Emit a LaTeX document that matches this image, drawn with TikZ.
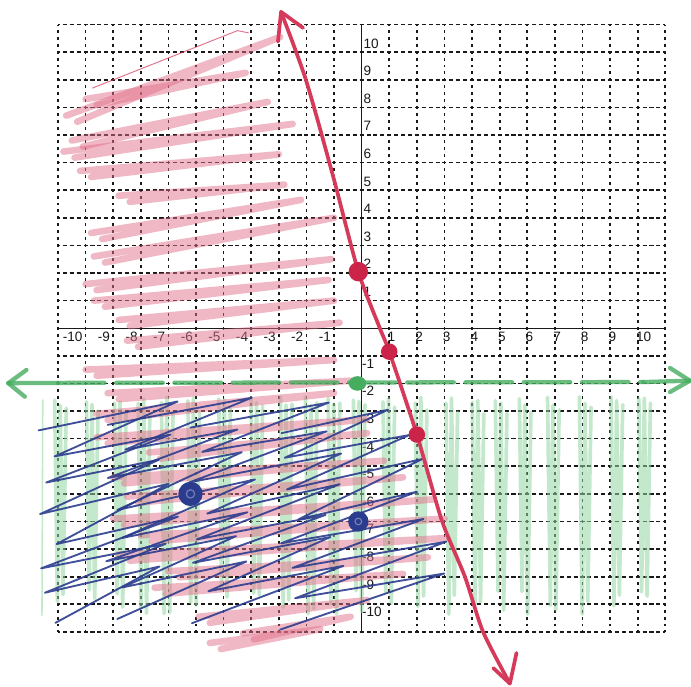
\documentclass[tikz,border=0pt]{standalone}
\usepackage{fontspec}
\setmainfont{Liberation Sans}
\usetikzlibrary{shapes.geometric}
\definecolor{redline}{HTML}{D63A5A}
\definecolor{reddot}{HTML}{CC2348}
\definecolor{redcrayon}{HTML}{E2708A}
\definecolor{bluepen}{HTML}{2B3C8E}
\definecolor{greenpen}{HTML}{45AD5E}
\definecolor{greencrayon}{HTML}{92D6A2}
\begin{document}
\begin{tikzpicture}[x=0.5cm,y=0.5cm,
  gridh/.style={line width=0.85pt, black!90, dash pattern=on 2.1pt off 1.4565pt, dash phase=1.05pt},
  gridv/.style={line width=0.85pt, black!90, dash pattern=on 1.5pt off 2.0565pt, dash phase=0.75pt},
  axisline/.style={line width=0.7pt, black!90},
  ticklab/.style={font=\fontsize{7}{7}\selectfont, inner sep=0pt, text=black!90},
  greenshade/.style={draw=greencrayon, line width=1.9pt, opacity=0.55, line cap=round, line join=round},
  redshade/.style={draw=redcrayon, line width=3.4pt, opacity=0.5, line cap=round, line join=round},
  bluescribble/.style={draw=bluepen, line width=0.95pt, opacity=0.9, line cap=round, line join=round},
  redcurve/.style={draw=redline, line width=1.9pt, line cap=round, line join=round},
  greencurve/.style={draw=greenpen, line width=2.2pt, opacity=0.8, line cap=round, line join=round},
  dotred/.style={circle, fill=reddot, inner sep=0pt, minimum size=#1},
  dotblue/.style={circle, fill=bluepen, inner sep=0pt, minimum size=#1},
  dotgreen/.style={ellipse, fill=greenpen, inner sep=0pt, minimum width=9pt, minimum height=7.5pt}
]
\useasboundingbox (-13.10,-12.96) rectangle (11.93,11.89);
\fill[white] (-13.10,-12.96) rectangle (11.93,11.89);

% grid
\foreach \i in {-11,...,-1}{
  \draw[gridv] (\i,-11) -- (\i,11);
  \draw[gridh] (-11,\i) -- (11,\i);
}
\foreach \i in {1,...,11}{
  \draw[gridv] (\i,-11) -- (\i,11);
  \draw[gridh] (-11,\i) -- (11,\i);
}
\draw[axisline] (-11,0) -- (11,0);
\draw[axisline] (0,-11) -- (0,11);

% tick labels
\foreach \i [count=\c] in {-10,...,-1}{
  \node[ticklab, anchor=base east] (xn\c) at ({\i-0.1},-0.49) {\i};
  \node[ticklab, anchor=base west] (yn\c) at (0.0,{\i-0.45}) {\i};
}
\foreach \i in {1,...,10}{
  \node[ticklab, anchor=base west] (xp\i) at ({\i-0.07},-0.49) {\i};
  \node[ticklab, anchor=base west] (yp\i) at (0.06,{\i+0.15}) {\i};
}

% green shading (below y=-2): bands of vertical crayon strokes
\draw[greenshade, line width=0.8pt] (-11.55,-2.6) -- (-11.58,-10.4);
\foreach \k in {0,...,21}{
  \pgfmathsetmacro\cc{-10.9+\k+0.18*sin(\k*57)}
  \draw[greenshade] ({\cc-0.22},{-2.6-0.12*sin(\k*33)}) -- ({\cc-0.12},{-9.9+0.45*sin(\k*71)})
     -- ({\cc-0.02},{-2.65-0.15*cos(\k*41)}) -- ({\cc+0.08},{-10.0+0.35*cos(\k*53)})
     -- ({\cc+0.2},{-2.9-0.2*sin(\k*29)});
}

% red crayon shading
\foreach \xa/\ya/\xb/\yb in {-10.7/7.7/-2.95/10.55, -10.0/8.3/-4.2/9.25, -10.5/6.8/-3.4/8.2,
  -10.8/6.4/-2.5/7.4, -10.2/5.7/-3.0/6.3, -8.8/4.8/-2.8/5.2, -9.8/3.45/-2.2/4.65,
  -9.7/2.6/-1.0/4.0, -10.0/1.6/-1.1/2.5, -9.7/1.0/-1.2/1.75, -8.8/0.3/-1.0/1.0,
  -8.5/-0.45/-0.8/0.2, -10.0/-1.5/-1.0/-1.15, -9.2/-2.35/-0.4/-1.9, -9.6/-3.1/-1.0/-2.35,
  -9.6/-3.95/0.2/-3.3, -7.7/-4.5/0.2/-3.8, -9.0/-5.4/0.8/-4.8, -8.5/-6.1/1.5/-5.4,
  -9.0/-6.9/2.6/-6.2, -8.0/-7.5/3.0/-6.9, -8.8/-8.2/3.1/-7.6, -7.0/-8.8/2.4/-8.3,
  -7.5/-9.4/1.5/-8.9, -5.9/-10.45/0.2/-9.85, -4.3/-11.05/-0.4/-10.45, -5.5/-11.4/-1.5/-10.9}{
  \draw[redshade] (\xa,\ya) -- (\xb,\yb) -- ({\xa+0.4},{\ya-0.22});
}
\draw[redline, line width=0.5pt, opacity=0.7, line cap=round] (-9.75,8.7) -- (-4.5,10.78) -- (-4.1,10.7);

% blue pen scribble: four zigzag columns
\foreach \a/\b/\ys/\s in {-11.7/-7.0/-3.7/1, -9.2/-4.2/-3.5/2, -6.2/-1.0/-3.6/3, -2.9/1.3/-3.8/4}{
  \draw[bluescribble] (\a,\ys)
    \foreach \k in {0,...,6}{
      -- ({\b+0.35*sin(\s*71+\k*97)+(\s==4)*min(1.5,0.3*\k)},{\ys-\k+0.95+0.12*cos(\s*37+\k*113)})
      -- ({\a+0.3+0.35*sin(\s*53+\k*131)},{\ys-(\k+1)+0.12*sin(\s*29+\k*83)})
    };
}

% green boundary line y = -2
\coordinate (gl) at (-12.8,-1.99);
\coordinate (gla) at (-11.0,-1.98);
\coordinate (grb) at (10.2,-1.95);
\coordinate (gr) at (11.89,-1.9);
\draw[greencurve] (gl) -- (gla);
\draw[greencurve, dash pattern=on 24pt off 6pt] (gla) -- (grb);
\draw[greencurve] (grb) -- (gr);
\draw[greencurve] (-12.14,-1.51) -- (gl) -- (-12.2,-2.48);
\draw[greencurve] (11.17,-1.44) -- (gr) -- (11.17,-2.31);

% red boundary line
\coordinate (rt) at (-2.92,11.46);
\coordinate (rb) at (5.37,-12.87);
\draw[redcurve] plot[smooth, tension=0.45] coordinates {(-2.92,11.46) (-2.02,9.0) (-1.03,5.49) (-0.12,2.05) (0.66,0) (1.0,-0.85) (2.0,-3.85) (2.9,-6.95) (3.74,-9) (4.4,-11) (5.37,-12.87)};
\draw[redcurve] (-2.12,10.88) -- (rt) -- (-3.03,10.38);
\draw[redcurve] (5.61,-11.76) -- (rb) -- (4.77,-12.31);

% points
\node[dotred=10pt] (r1) at (-0.12,2.05) {};
\node[dotred=8.5pt] (r2) at (1.0,-0.85) {};
\node[dotred=8.5pt] (r3) at (2.0,-3.85) {};
\node[dotgreen] (g1) at (-0.15,-2.0) {};
\node[dotblue=12.5pt] (b1) at (-6.2,-6.0) {};
\node[dotblue=10.5pt] (b2) at (-0.12,-7.0) {};
\draw[white, opacity=0.35, line width=0.6pt] (b1.center) circle (0.15);
\draw[white, opacity=0.35, line width=0.6pt] (b2.center) circle (0.12);
\end{tikzpicture}
\end{document}
